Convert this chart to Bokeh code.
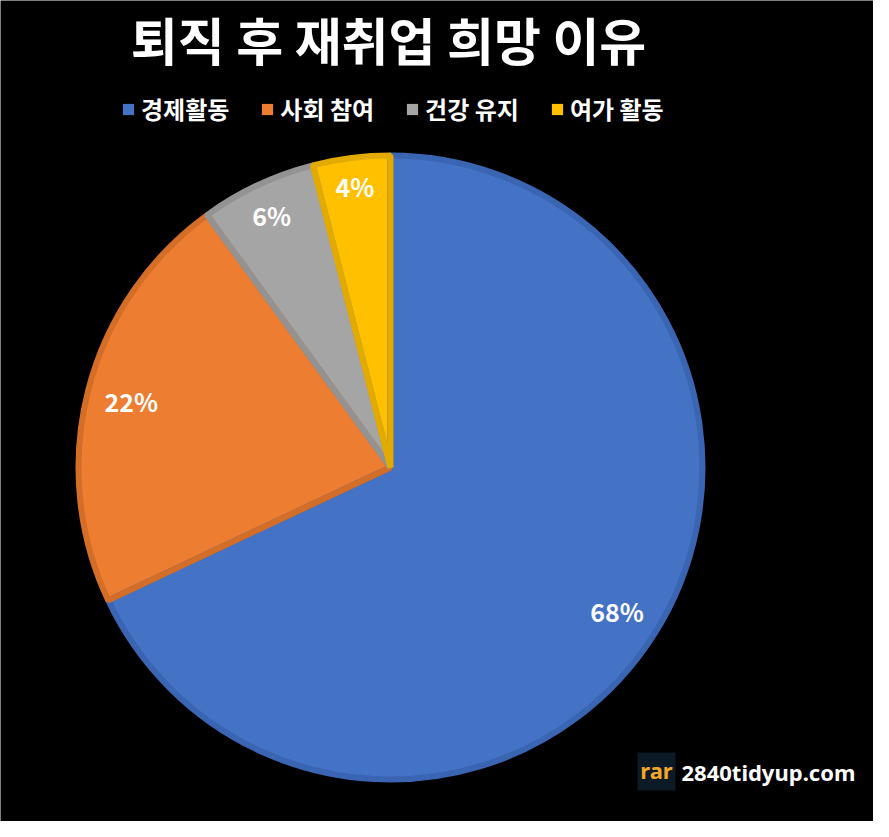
import math
from bokeh.plotting import figure
from bokeh.models import Range1d, Legend, LegendItem, ColumnDataSource
from bokeh.core.properties import value
from bokeh.embed import file_html
from bokeh.resources import INLINE

# ---- data ----
title_text = "퇴직 후 재취업 희망 이유"
categories = ["경제활동", "사회 참여", "건강 유지", "여가 활동"]
shares = [68, 22, 6, 4]
label_texts = ["68%", "22%", "6%", "4%"]
fill_colors = ["#4472C4", "#ED7D31", "#A5A5A5", "#FFC000"]
edge_colors = ["#3A65B2", "#D46E27", "#939393", "#E3AB00"]
watermark_badge = "rar"
watermark_site = "2840tidyup.com"

FONT = "Noto Sans CJK KR"
W, H = 873, 821

p = figure(width=W, height=H, output_backend="svg", toolbar_location=None,
           x_range=Range1d(0, W), y_range=Range1d(0, H), min_border=0,
           x_axis_location=None, y_axis_location=None,
           background_fill_color="black", border_fill_color="black",
           outline_line_color=None)
p.grid.visible = False

# ---- pie geometry ----
cx, cy, R = 390, 354, 312
total = float(sum(shares))
starts, ends, mids = [], [], []
acc = 0.0
for s in shares:
    a0 = math.pi / 2 - 2 * math.pi * acc / total
    acc += s
    a1 = math.pi / 2 - 2 * math.pi * acc / total
    starts.append(a0)
    ends.append(a1)
    mids.append((a0 + a1) / 2)

src = ColumnDataSource(dict(start=starts, end=ends, fill=fill_colors,
                            edge=edge_colors, cat=categories))

wedges = p.wedge(x=cx, y=cy, radius=R, start_angle="start", end_angle="end",
                 direction="clock", fill_color="fill", line_color=None, source=src)
p.wedge(x=cx, y=cy, radius=R, start_angle="start", end_angle="end",
        direction="clock", fill_color=None, line_color="edge", line_width=6,
        source=src)

# ---- data labels (inside end) ----
R_in = 295
hh = 9
lx, ly = [], []
for t, a in zip(label_texts, mids):
    ux, uy = math.cos(a), math.sin(a)
    hw = 8 * len(t) + 2
    d = R_in - (abs(ux) * hw + abs(uy) * hh)
    lx.append(cx + d * ux)
    ly.append(cy + d * uy)
p.text(x=lx, y=ly, text=label_texts, text_color="white",
       text_font=value(FONT), text_font_style="bold", text_font_size="25px",
       text_align="center", text_baseline="middle")

# ---- title ----
p.text(x=[388], y=[783], text=[title_text], text_color="white",
       text_font=value(FONT), text_font_style="bold", text_font_size="51px",
       text_align="center", text_baseline="middle")

# ---- legend ----
items = [LegendItem(label=c, renderers=[wedges], index=i)
         for i, c in enumerate(categories)]
legend = Legend(items=items, orientation="horizontal", location=(121, 695),
                glyph_width=14, glyph_height=14, label_standoff=6, spacing=31,
                padding=0, margin=0, background_fill_alpha=0,
                border_line_color=None, label_text_color="white",
                label_text_font=FONT, label_text_font_style="bold",
                label_text_font_size="24px")
p.add_layout(legend)

# ---- watermark ----
p.rect(x=[656], y=[50], width=38, height=38, fill_color="#0C1A25", line_color=None)
p.text(x=[656], y=[52], text=[watermark_badge], text_color="#F2A62A",
       text_font=value("Noto Sans"), text_font_style="bold", text_font_size="22px",
       text_align="center", text_baseline="middle")
p.text(x=[681], y=[50], text=[watermark_site], text_color="white",
       text_font=value("Noto Sans"), text_font_style="bold", text_font_size="22px",
       text_align="left", text_baseline="middle")

html = file_html(p, INLINE)
html = html.replace("<body>", '<body style="background-color:#000000;">', 1)
open("out.html", "w").write(html)
